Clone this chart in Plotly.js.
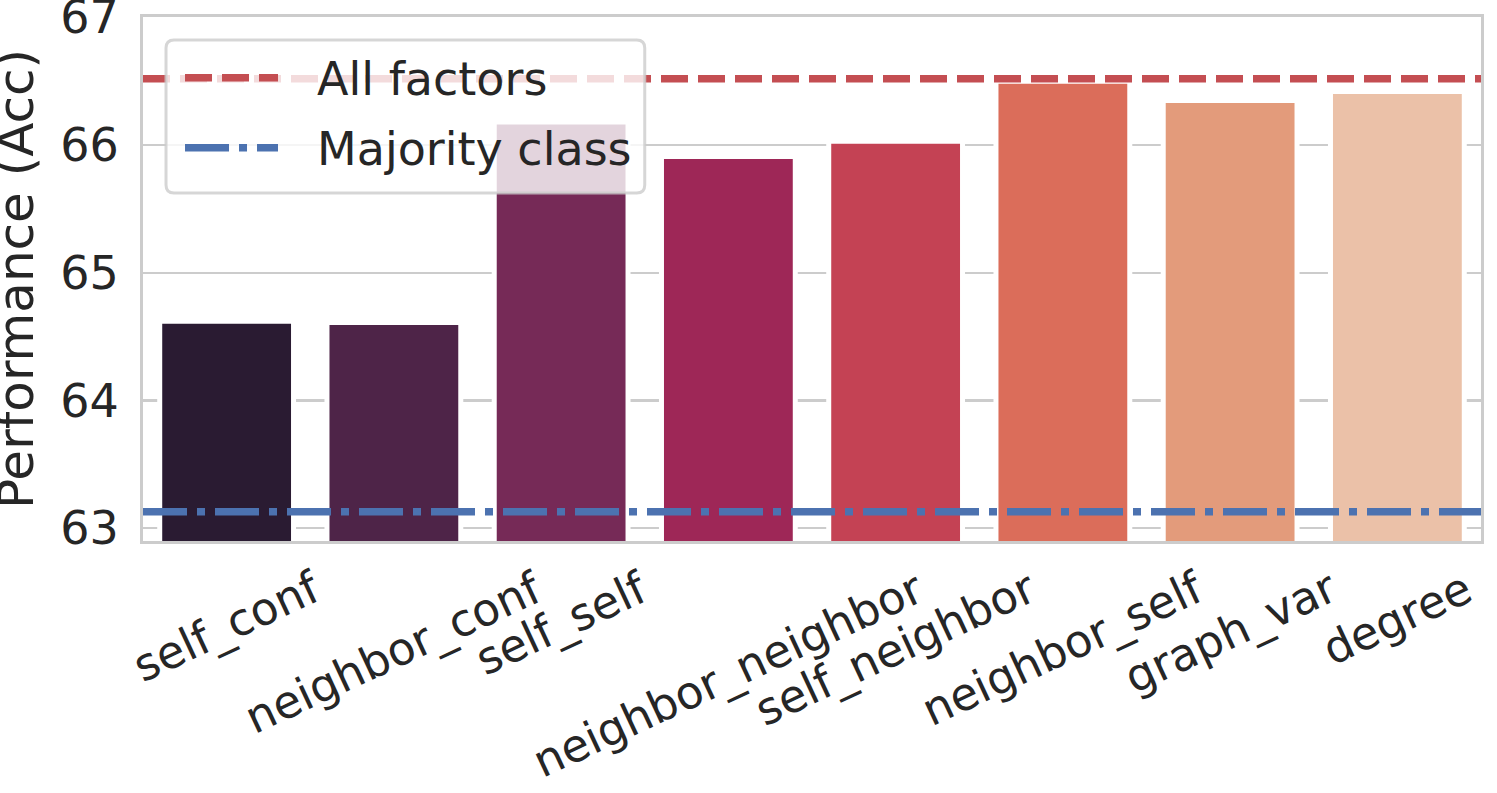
<!DOCTYPE html>
<html>
<head>
<meta charset="utf-8">
<script src="https://cdn.plot.ly/plotly-3.0.1.min.js"></script>
<style>
  html, body { margin: 0; padding: 0; background: #fff; }
  #graph { width: 1497px; height: 793px; }
</style>
</head>
<body>
<div id="graph"></div>
<script>
// factor ablation: accuracy when the factor is dropped
var factors = ["self_conf", "neighbor_conf", "self_self", "neighbor_neighbor",
               "self_neighbor", "neighbor_self", "graph_var", "degree"];
var accuracy = [64.62, 64.61, 66.18, 65.91, 66.03, 66.50, 66.35, 66.42];
var barColors = ["#2a1b32", "#4e2448", "#762a57", "#9e2757",
                 "#c44254", "#db6d5a", "#e39b7b", "#ebc1a8"];

var refNames = ["All factors", "Majority class"];
var refValues = [66.52, 63.13];
var refColors = ["#c44e52", "#4c72b0"];
var refDash = ["27px,10px", "44px,10px,8px,10px"];

var yTicks = [63, 64, 65, 66, 67];
var yTitle = "Performance (Acc)";

var font = "DejaVu Sans, sans-serif";
var textColor = "#262626";

function plotAblation() {
  var bars = {
    type: "bar",
    x: factors,
    y: accuracy,
    width: 0.8,
    marker: { color: barColors, line: { color: "#ffffff", width: 5 } },
    showlegend: false,
    hoverinfo: "x+y"
  };

  var shapes = [];
  // horizontal reference lines
  for (var i = 0; i < refValues.length; i++) {
    shapes.push({
      type: "line", xref: "paper", yref: "y",
      x0: 0, x1: 1, y0: refValues[i], y1: refValues[i],
      layer: "above",
      line: { color: refColors[i], width: 7.5, dash: refDash[i] }
    });
  }

  // hand-made legend box (rounded, semi transparent like matplotlib)
  var lx0 = 0.0172, lx1 = 0.375, ly0 = 0.664, ly1 = 0.956;
  var rx = 0.006, ry = 0.0153;
  var box = "M " + (lx0 + rx) + "," + ly1 +
    " L " + (lx1 - rx) + "," + ly1 + " Q " + lx1 + "," + ly1 + " " + lx1 + "," + (ly1 - ry) +
    " L " + lx1 + "," + (ly0 + ry) + " Q " + lx1 + "," + ly0 + " " + (lx1 - rx) + "," + ly0 +
    " L " + (lx0 + rx) + "," + ly0 + " Q " + lx0 + "," + ly0 + " " + lx0 + "," + (ly0 + ry) +
    " L " + lx0 + "," + (ly1 - ry) + " Q " + lx0 + "," + ly1 + " " + (lx0 + rx) + "," + ly1 + " Z";
  shapes.push({
    type: "path", xref: "paper", yref: "paper", path: box, layer: "above",
    fillcolor: "rgba(255,255,255,0.8)",
    line: { color: "rgba(204,204,204,0.8)", width: 3 }
  });

  var legY = [0.884, 0.7506];
  var annotations = [];
  for (var j = 0; j < refNames.length; j++) {
    shapes.push({
      type: "line", xref: "paper", yref: "paper",
      x0: 0.0314, x1: 0.1009, y0: legY[j], y1: legY[j],
      layer: "above",
      line: { color: refColors[j], width: 7.5, dash: refDash[j] }
    });
    annotations.push({
      xref: "paper", yref: "paper", x: 0.1285, y: legY[j],
      xanchor: "left", yanchor: "middle", yshift: -1,
      text: refNames[j], showarrow: false,
      font: { family: font, size: 46, color: textColor }
    });
  }

  // rotated category labels, centred under each bar like matplotlib
  for (var k = 0; k < factors.length; k++) {
    annotations.push({
      xref: "x", yref: "paper", x: factors[k], y: 0,
      xanchor: "center", yanchor: "top", yshift: -17,
      textangle: -25, text: factors[k], showarrow: false,
      font: { family: font, size: 45, color: textColor }
    });
  }

  // y axis title, placed like matplotlib's ylabel
  annotations.push({
    xref: "paper", yref: "paper", x: 0, y: 0.5,
    xanchor: "right", yanchor: "middle", xshift: -96,
    textangle: -90, text: yTitle, showarrow: false,
    font: { family: font, size: 50, color: textColor }
  });

  var layout = {
    width: 1497,
    height: 793,
    margin: { l: 143, r: 16, t: 17, b: 252 },
    paper_bgcolor: "#ffffff",
    plot_bgcolor: "#ffffff",
    font: { family: font, size: 46, color: textColor },
    bargap: 0.2,
    xaxis: {
      type: "category",
      range: [-0.5, 7.5],
      showticklabels: false,
      showgrid: false,
      zeroline: false,
      ticks: "",
      showline: true, mirror: true,
      linecolor: "#cccccc", linewidth: 3
    },
    yaxis: {
      range: [62.9, 67.003],
      tickvals: yTicks,
      ticktext: yTicks.map(String),
      tickfont: { family: font, size: 46, color: textColor },
      ticks: "",
      ticklabelstandoff: 12,
      ticklabeloverflow: "allow",
      showgrid: true, gridcolor: "#cccccc", gridwidth: 2.5,
      zeroline: false,
      showline: true, mirror: true,
      linecolor: "#cccccc", linewidth: 3,
      automargin: false
    },
    shapes: shapes,
    annotations: annotations,
    showlegend: false
  };

  Plotly.newPlot("graph", [bars], layout, { displayModeBar: false, staticPlot: true });
}
plotAblation();
</script>
</body>
</html>
